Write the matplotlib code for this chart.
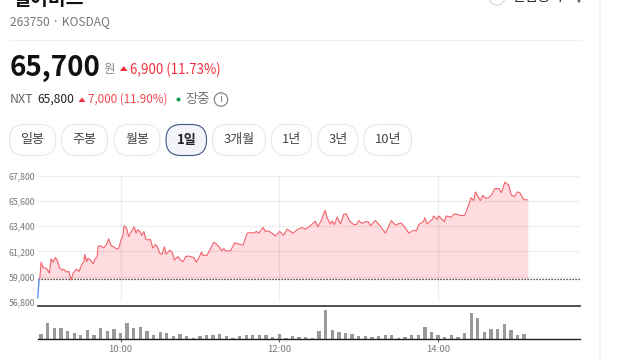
import matplotlib
matplotlib.use("Agg")
import matplotlib.pyplot as plt
from matplotlib.patches import FancyBboxPatch, Polygon, Circle

plt.rcParams['font.family'] = ['Noto Sans CJK KR', 'DejaVu Sans']

# ---- data ----
pre_t = [-2.5, -1.5]
pre_price = [57150, 58800]
minutes = [-1, 0, 1.5, 3, 4.5, 6.3, 7.6, 9.1, 10.8, 12.1, 14.1, 15.9, 17.1, 19.1, 20.9, 22.7, 24.2, 26.7, 28.7, 31,
           32.2, 33, 34.3, 35.5, 37.3, 39.3, 41, 42.3, 43, 44.8, 47.4, 49.4, 51.1, 52.9, 54.9, 57.4, 58.7, 60.5,
           61.7, 62.7, 64.5, 66.2, 68.3, 70.3, 71.8, 73, 74.6, 76.1, 77.6, 79.1, 80.6, 82.6, 84.4, 86.4, 87.7,
           89.7, 91.4, 93.2, 94.5, 97.2, 99, 100.8, 103.3, 105.3, 107.3, 109.3, 111.6, 115.4, 117.4, 119.9,
           121.2, 122.2, 125.4, 130.5, 133, 136.8, 138, 139.3, 143.1, 146.3, 149.3, 152.6, 155.7, 158.2, 160.7,
           162.7, 164.5, 167.8, 169.5, 171.5, 174.5, 177, 180.3, 183.3, 185.9, 188.4, 190.4, 193.5, 197.2, 199.8,
           203.5, 207.3, 209.1, 211.5, 214.6, 216.1, 218.6, 219.9, 221.7, 223.7, 226.2, 228.7, 230.5, 233.2,
           236.3, 238.3, 240, 242.6, 245.1, 247.1, 248.9, 252.6, 256.4, 260.2, 264.7, 267.8, 272, 275.3, 277.8,
           281.6, 283.6, 285.4, 289.2, 289.9, 291.7, 295.5, 296.7, 299.2, 300.5, 304.8, 306, 310, 312.3, 316.9,
           320.1, 323.2, 324.9, 327, 328.2, 332, 333.8, 335.8, 338.3, 340.8, 342.8, 345.9, 347.9, 350.4, 353.4,
           355.2, 357.7, 359.7, 361.7, 364.7, 367.8]
prices = [58800, 60250, 59800, 59750, 59650, 59300, 60550, 60250, 60670, 60450, 59750, 59550, 59650, 59400, 59450,
          58700, 59300, 59650, 59450, 60100, 60250, 60950, 60300, 60600, 60450, 60100, 60600, 60650, 61650, 61700,
          61500, 61800, 62300, 61700, 61600, 61400, 61500, 62250, 62500, 63450, 63250, 62500, 62950, 63350, 62800,
          63100, 62950, 62600, 62950, 62300, 62200, 62250, 61500, 61800, 61650, 61050, 60950, 61600, 60950, 61300,
          61150, 60450, 60750, 60450, 60300, 60750, 60800, 60650, 60250, 60800, 61150, 60850, 60850, 62000, 61800,
          61250, 61450, 61250, 61250, 61950, 61850, 61750, 62800, 62850, 62800, 62950, 62800, 63300, 62950, 63000,
          62800, 62550, 62950, 62600, 63150, 62950, 62800, 63100, 63300, 63150, 63450, 63850, 63350, 63850, 64800,
          64150, 63600, 63850, 63550, 64200, 63600, 64450, 64500, 63850, 63550, 63550, 63900, 63650, 63800, 63800,
          63450, 63900, 63400, 62800, 63900, 63500, 63700, 63250, 62800, 63050, 63000, 63550, 63850, 64150, 63600,
          64000, 64300, 64000, 64300, 63800, 64300, 64200, 64500, 64350, 64350, 65300, 65900, 65650, 66400, 65650,
          66100, 65850, 65900, 66200, 66700, 66700, 66350, 67250, 67000, 66150, 66000, 66400, 66350, 65750, 65700]
volume = [16, 48, 35, 35, 25, 18, 13, 28, 13, 33, 25, 32, 18, 48, 35, 37, 25, 13, 21, 18, 10, 16, 9, 5, 9, 12, 12,
          16, 10, 5, 9, 12, 12, 12, 12, 7, 15, 5, 9, 6, 8, 5, 25, 89, 28, 21, 19, 16, 9, 9, 8, 9, 13, 12, 5, 7, 12,
          12, 37, 21, 13, 8, 12, 7, 19, 78, 64, 21, 30, 32, 45, 28, 13, 16]
volume_t = [i * 5 for i in range(len(volume))]
base_price = 58800
y_ticks = [56800, 59000, 61200, 63400, 65600, 67800]
y_labels = ['56,800', '59,000', '61,200', '63,400', '65,600', '67,800']
x_ticks = [60, 180, 300]
x_labels = ['10:00', '12:00', '14:00']
buttons = ['일봉', '주봉', '월봉', '1일', '3개월', '1년', '3년', '10년']
button_lefts = [9.5, 61.5, 114, 166, 212.5, 271.5, 318, 364]
button_rights = [55.5, 107.5, 160, 206.5, 265.5, 311.5, 358, 411.5]

W, H = 640, 360
fig = plt.figure(figsize=(6.4, 3.6), dpi=100, facecolor='white')

def px_axes(l, t, r, b, **kw):
    return fig.add_axes([l / W, 1 - b / H, (r - l) / W, (b - t) / H], **kw)

# ---- page furniture ----
ui = px_axes(0, 0, W, H)
ui.set_xlim(0, W); ui.set_ylim(H, 0); ui.axis('off')

RED = '#f0303c'
ui.text(12, 5, '펄어비스', fontsize=14, fontweight='bold', color='#111111', va='baseline', ha='left')
ui.text(10, 21.5, '263750 · KOSDAQ', fontsize=8.6, color='#777777', va='center')
ui.plot([9, 581], [40, 40], color='#f0f0f0', lw=1)
ui.plot([599.5, 599.5], [0, 360], color='#f4f4f4', lw=1.6)

ui.add_patch(Circle((497, -3), 8, fc='white', ec='#dddddd', lw=1))
ui.text(512, 1.5, '관심종목', fontsize=10, color='#222222', va='baseline')
ui.add_patch(Circle((579, 1), 1.5, fc='#666666', ec='none'))

ui.text(10, 67.5, '65,700', fontsize=20, fontweight='bold', color='#111111', va='center')
ui.text(103, 69, '원', fontsize=9, color='#888888', va='center')
ui.add_patch(Polygon([[120, 71], [127.5, 71], [123.7, 66]], fc=RED, ec='none'))
ui.text(129.5, 69.5, '6,900 (11.73%)', fontsize=9.6, color=RED, va='center')

ui.text(10, 99.5, 'NXT', fontsize=9, color='#666666', va='center')
ui.text(37, 99.5, '65,800', fontsize=8.7, color='#222222', va='center')
ui.add_patch(Polygon([[78.5, 102], [85.5, 102], [82, 97.5]], fc=RED, ec='none'))
ui.text(88, 99.5, '7,000 (11.90%)', fontsize=8.4, color='#f2454f', va='center')
ui.add_patch(Circle((178.5, 99.5), 2, fc='#0a9f55', ec='none'))
ui.text(185, 99.5, '장중', fontsize=9.6, color='#777777', va='center')
ui.add_patch(Circle((221, 99.5), 6.7, fc='white', ec='#888888', lw=0.9))
ui.text(221, 99.5, 'i', fontsize=8, color='#888888', va='center', ha='center')

for label, l, r in zip(buttons, button_lefts, button_rights):
    active = label == '1일'
    ui.add_patch(FancyBboxPatch((l + 15, 124.5 + 15), r - l - 30, 1, boxstyle='round,pad=15,rounding_size=15',
                                fc='#f2f4f9' if active else 'white',
                                ec='#3f5583' if active else '#e8e8e8', lw=0.8))
    ui.text((l + r) / 2, 140, label, fontsize=9.4, color='#222222' if active else '#444444',
            fontweight='bold' if active else 'normal', ha='center', va='center')

# ---- price panel ----
XL, XR = 37.5, 580
per_min = (279.3 - 120.5) / 120
xlim = (60 + (XL - 120.5) / per_min, 60 + (XR - 120.5) / per_min)

ax = px_axes(XL, 176, XR, 301.7)
ax.patch.set_alpha(0)
ax.set_xlim(*xlim); ax.set_ylim(56800, 67800)
ax.fill_between(minutes, prices, base_price, color='#ffdcdf', lw=0, zorder=1)
ax.set_yticks(y_ticks, y_labels)
ax.set_xticks(x_ticks, [])
ax.grid(True, color='#000000', alpha=0.06, lw=1, zorder=2)
ax.set_axisbelow(False)
ax.tick_params(length=0, labelsize=6.3, labelcolor='#777777', pad=1.8)
for s in ax.spines.values():
    s.set_visible(False)
ax.axhline(base_price, color='#222222', lw=0.9, ls=(0, (1, 1.4)), zorder=3)
ax.plot(pre_t, pre_price, color='#5a93f0', lw=1, zorder=4, clip_on=False)
ax.plot(minutes, prices, color='#f2606a', lw=0.8, zorder=4, clip_on=False)

# ---- volume panel ----
vx = px_axes(XL, 306, XR, 339.3)
vx.patch.set_alpha(0)
vx.set_xlim(*xlim); vx.set_ylim(0, 100)
vx.bar(volume_t, volume, width=2.5, color='#999999', lw=0)
vx.set_yticks([])
vx.set_xticks(x_ticks, x_labels)
vx.tick_params(axis='x', length=2.5, width=0.8, color='#666666', labelsize=6.9, labelcolor='#777777', pad=1.5)
for n in ['left', 'right']:
    vx.spines[n].set_visible(False)
vx.spines['top'].set_color('#444444'); vx.spines['top'].set_linewidth(1.3)
vx.spines['bottom'].set_color('#222222'); vx.spines['bottom'].set_linewidth(1.0)

fig.savefig('out.png', dpi=100, facecolor='white')
